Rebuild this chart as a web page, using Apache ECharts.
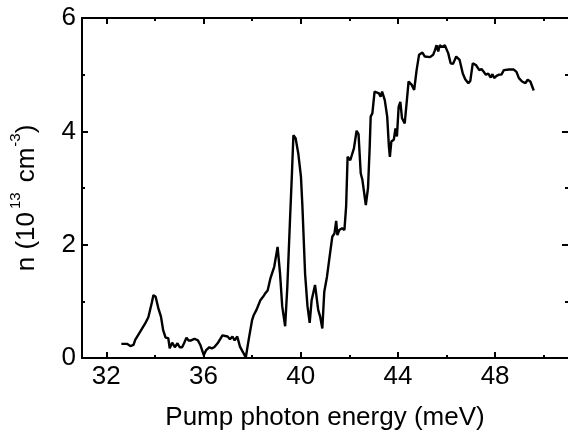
<!DOCTYPE html>
<html>
<head>
<meta charset="utf-8">
<script src="https://cdn.jsdelivr.net/npm/echarts@6/dist/echarts.min.js"></script>
<style>
  html, body { margin: 0; padding: 0; background: #fff; }
  #chart { width: 568px; height: 439px; }
</style>
</head>
<body>
<div id="chart"></div>
<script>
// values
var energy = [32.62, 32.85, 32.99, 33.12, 33.19, 33.39, 33.60, 33.73, 33.87, 33.94, 34.03, 34.14, 34.25, 34.34, 34.44, 34.55, 34.61, 34.71, 34.82, 34.93,
  35.02, 35.12, 35.20, 35.30, 35.38, 35.49, 35.63, 35.77, 35.87, 36.01, 36.11, 36.24, 36.34, 36.44, 36.58, 36.78, 36.99, 37.09, 37.19, 37.28,
  37.39, 37.50, 37.64, 37.74, 37.87, 38.00, 38.07, 38.18, 38.23, 38.34, 38.45, 38.54, 38.64, 38.75, 38.80, 38.91, 39.05, 39.15, 39.24, 39.36,
  39.45, 39.56, 39.64, 39.70, 39.79, 39.90, 40.01, 40.07, 40.10, 40.18, 40.28, 40.37, 40.45, 40.52, 40.59, 40.64, 40.72, 40.80, 40.89, 40.97,
  41.08, 41.19, 41.30, 41.39, 41.46, 41.51, 41.59, 41.70, 41.80, 41.87, 41.93, 42.04, 42.10, 42.19, 42.24, 42.30, 42.38, 42.47, 42.54, 42.68,
  42.77, 42.84, 42.88, 42.95, 43.04, 43.22, 43.29, 43.35, 43.46, 43.56, 43.63, 43.67, 43.73, 43.83, 43.90, 43.96, 44.03, 44.10, 44.17, 44.28,
  44.37, 44.44, 44.57, 44.67, 44.77, 44.87, 45.01, 45.11, 45.32, 45.45, 45.52, 45.59, 45.66, 45.72, 45.82, 45.93, 46.07, 46.17, 46.27, 46.40,
  46.54, 46.67, 46.77, 46.90, 46.98, 47.08, 47.14, 47.21, 47.28, 47.35, 47.44, 47.53, 47.62, 47.72, 47.82, 47.89, 47.96, 48.06, 48.16, 48.26,
  48.36, 48.43, 48.57, 48.77, 48.88, 48.98, 49.04, 49.11, 49.18, 49.25, 49.34, 49.45, 49.52, 49.59]
var density = [0.25, 0.25, 0.21, 0.23, 0.32, 0.46, 0.61, 0.72, 0.97, 1.11, 1.08, 0.88, 0.73, 0.49, 0.36, 0.35, 0.17, 0.27, 0.19, 0.26,
  0.19, 0.19, 0.26, 0.36, 0.31, 0.31, 0.34, 0.31, 0.23, 0.05, 0.14, 0.19, 0.17, 0.19, 0.26, 0.40, 0.38, 0.33, 0.38, 0.31,
  0.38, 0.20, 0.09, 0.01, 0.35, 0.67, 0.76, 0.85, 0.82, 1.02, 1.08, 1.14, 1.19, 1.40, 1.43, 1.61, 1.96, 1.49, 0.91, 0.56,
  1.26, 2.44, 3.26, 3.93, 3.88, 3.61, 3.20, 2.68, 2.66, 1.49, 0.91, 0.62, 1.02, 1.02, 1.29, 1.26, 0.85, 0.73, 0.52, 1.17,
  1.43, 1.79, 2.14, 2.20, 2.42, 2.17, 2.26, 2.29, 2.26, 2.68, 3.55, 3.49, 3.47, 3.70, 3.70, 4.01, 3.95, 3.26, 3.14, 2.70,
  3.00, 3.73, 4.26, 4.32, 4.70, 4.67, 4.61, 4.70, 4.55, 4.26, 3.73, 3.55, 3.82, 3.85, 4.05, 3.91, 4.43, 4.52, 4.23, 4.14,
  4.55, 4.88, 4.82, 4.73, 5.08, 5.35, 5.39, 5.32, 5.31, 5.35, 5.43, 5.52, 5.41, 5.52, 5.49, 5.52, 5.38, 5.20, 5.19, 5.32,
  5.26, 5.02, 4.92, 4.85, 4.89, 5.20, 5.23, 5.17, 5.17, 5.08, 5.10, 5.05, 5.00, 5.02, 4.95, 5.01, 4.94, 4.98, 5.00, 5.00,
  5.08, 5.11, 5.09, 5.09, 5.05, 4.94, 4.97, 4.88, 4.91, 4.85, 4.91, 4.88, 4.80, 4.72]

var xMajor = [32, 36, 40, 44, 48]
var xMinor = [34, 38, 42, 46, 50]

var points = []
for (var i = 0; i < energy.length; i++) {
  points.push([energy[i], density[i]])
}

var font = 'Liberation Sans, Arial, sans-serif'

function xAxisFor (pos, ticks, len, labels) {
  return {
    type: 'value',
    position: pos,
    min: 31,
    max: 51,
    axisLine: { show: true, onZero: false, lineStyle: { color: '#000', width: 2 } },
    axisTick: { show: true, inside: true, length: len, customValues: ticks, lineStyle: { color: '#000', width: 2 } },
    axisLabel: labels
      ? { show: true, customValues: ticks, color: '#000', fontSize: 26, fontFamily: font, margin: 6 }
      : { show: false },
    splitLine: { show: false }
  }
}

var bottomAxis = xAxisFor('bottom', xMajor, 6, true)
bottomAxis.name = 'Pump photon energy (meV)'
bottomAxis.nameLocation = 'middle'
bottomAxis.nameGap = 47
bottomAxis.nameTextStyle = { color: '#000', fontSize: 26, fontFamily: font }

var chart = echarts.init(document.getElementById('chart'))
var option = {
  animation: false,
  backgroundColor: '#fff',
  // the right frame edge sits just past the picture
  grid: { left: 79, width: 491, top: 18, bottom: 81, containLabel: false },
  xAxis: [
    bottomAxis,
    xAxisFor('bottom', xMinor, 3, false),
    xAxisFor('top', xMajor, 6, false),
    xAxisFor('top', xMinor, 3, false)
  ],
  yAxis: [
    {
      type: 'value',
      position: 'left',
      min: 0,
      max: 6,
      interval: 2,
      axisLine: { show: true, lineStyle: { color: '#000', width: 2 } },
      axisTick: { show: true, inside: true, length: 6, lineStyle: { color: '#000', width: 2 } },
      minorTick: { show: true, splitNumber: 2, length: 3, lineStyle: { color: '#000', width: 2 } },
      axisLabel: { color: '#000', fontSize: 26, fontFamily: font, margin: 6 },
      splitLine: { show: false },
      minorSplitLine: { show: false },
      name: '{a|n (10}{s1|13}{a|cm}{s2|-3}{a|)}{e|}',
      nameLocation: 'middle',
      nameRotate: 90,
      nameGap: 42,
      nameTextStyle: {
        rich: {
          a: { color: '#000', fontSize: 26, fontFamily: font, lineHeight: 32, verticalAlign: 'bottom' },
          s1: { color: '#000', fontSize: 15, fontFamily: font, lineHeight: 32, verticalAlign: 'top', padding: [0, 10, 0, 3] },
          s2: { color: '#000', fontSize: 15, fontFamily: font, lineHeight: 32, verticalAlign: 'top', padding: [0, 0, 0, 1] },
          e: { width: 20, lineHeight: 32 }
        }
      }
    },
    {
      type: 'value',
      position: 'right',
      min: 0,
      max: 6,
      interval: 2,
      axisLine: { show: false },
      axisTick: { show: true, inside: true, length: 6, lineStyle: { color: '#000', width: 2 } },
      minorTick: { show: true, splitNumber: 2, length: 3, lineStyle: { color: '#000', width: 2 } },
      axisLabel: { show: false },
      splitLine: { show: false }
    }
  ],
  series: [
    {
      type: 'line',
      xAxisIndex: 0,
      yAxisIndex: 0,
      data: points,
      showSymbol: false,
      lineStyle: { color: '#000', width: 2.4 }
    }
  ]
}
chart.setOption(option)
</script>
</body>
</html>
